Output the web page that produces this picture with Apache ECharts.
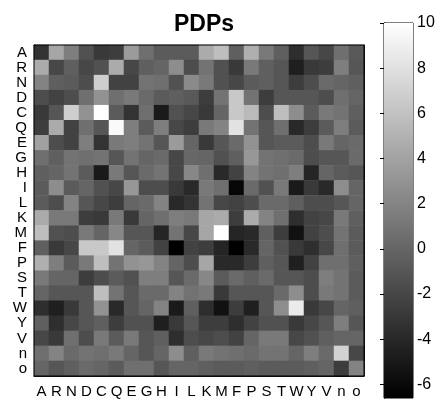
<!DOCTYPE html>
<html>
<head>
<meta charset="utf-8">
<script src="https://cdn.jsdelivr.net/npm/echarts@6/dist/echarts.min.js"></script>
<style>html,body{margin:0;padding:0;background:#fff;}#c{width:447px;height:415px;}</style>
</head>
<body>
<div id="c"></div>
<script>
// Category labels (columns left->right, rows top->bottom)
var labels = ['A','R','N','D','C','Q','E','G','H','I','L','K','M','F','P','S','T','W','Y','V','n','o'];
// Colorbar range and ticks
var cMin = -6.6, cMax = 10;
var cbTicks = [-6,-4,-2,0,2,4,6,8,10];
// Row values (one array per row label)
var rowA = [-3.3,4.2,1.6,-1.3,-2.9,-2.6,3.5,0.6,-0.7,-0.7,-0.7,4.5,5.8,-0.4,4.8,1.3,-0.4,-3.6,-1.0,-2.0,0.6,-0.8];
var rowR = [4.5,-2.0,-0.4,-2.0,-1.3,4.5,-2.0,-0.4,0.0,2.6,-1.6,0.9,-1.3,-2.9,1.3,-0.4,-1.0,-4.6,-2.9,-2.6,1.6,-1.0];
var rowN = [1.9,-0.4,-0.7,-1.6,6.8,-2.3,-2.3,0.9,0.6,-1.3,2.4,1.3,-1.3,-2.0,-0.7,-0.4,-1.0,-2.6,-1.6,0.3,0.0,-0.4];
var rowD = [-1.6,-2.3,-1.6,0.6,2.9,0.6,1.3,0.3,-0.7,-0.4,-0.8,-2.6,0.9,6.4,0.9,-2.6,-1.0,-1.0,-1.0,-1.6,0.6,0.0];
var rowC = [-2.9,-1.0,6.8,2.9,10.0,-0.7,-3.3,0.6,-4.9,-1.3,-2.0,-2.9,0.0,6.4,5.5,-1.6,5.8,2.6,-0.7,1.3,0.9,-0.4];
var rowQ = [-2.6,4.5,-2.3,0.6,-1.0,9.7,1.6,-0.7,1.6,-2.0,-2.6,1.3,1.9,8.1,0.9,-1.0,0.6,-3.9,-2.6,-0.7,1.6,-0.7];
var rowE = [3.9,-1.6,-2.3,1.6,-3.3,1.3,1.6,0.9,-1.0,3.5,0.0,-2.9,-1.0,0.3,2.9,-1.0,-0.7,-0.7,-1.6,1.3,0.0,0.3];
var rowG = [0.6,-0.4,0.9,0.6,0.9,-1.0,0.9,0.0,0.3,-2.0,0.1,0.0,-1.3,-0.4,3.2,0.9,0.6,0.3,-1.6,-1.0,-1.0,0.3];
var rowH = [-0.4,0.0,0.9,-0.7,-4.9,1.3,-1.0,0.3,0.9,-2.0,2.2,0.6,-3.9,-2.3,1.9,0.9,0.6,1.6,-4.2,0.0,-0.7,-1.0];
var rowI = [-0.7,2.6,-0.7,0.0,-1.3,-2.0,3.2,-1.6,-1.6,-2.9,-3.9,1.3,0.6,-6.2,0.3,-1.3,1.3,-4.9,-2.9,-3.9,2.6,0.0];
var rowL = [-0.7,-1.6,1.9,-1.0,-2.0,-2.6,0.0,0.3,1.9,-3.9,-3.3,0.9,-2.0,-2.3,-1.6,0.3,0.3,-0.4,-1.6,-1.6,-1.0,0.0];
var rowK = [4.5,1.3,1.3,-2.6,-2.9,1.3,-2.9,0.0,0.6,1.6,1.3,4.2,4.5,-2.6,4.5,1.9,0.6,-3.6,-2.3,-2.0,1.3,-0.4];
var rowM = [5.8,-1.3,-1.6,1.3,0.0,2.2,-1.0,-1.0,-4.2,0.9,-2.0,4.2,10.0,-4.2,-3.9,-0.4,-2.6,-5.5,-2.3,-1.6,0.9,-0.7];
var rowF = [-0.4,-2.9,-2.0,6.4,6.4,8.1,0.0,-0.7,-2.3,-6.6,-2.3,-2.6,-4.2,-6.6,-3.9,0.0,-1.3,-2.9,-3.6,-2.0,0.6,-0.7];
var rowP = [4.8,1.6,-0.7,1.3,5.8,0.9,2.9,3.2,1.9,0.0,-1.6,4.2,-3.9,-3.9,-2.6,-0.4,-1.0,-4.6,-2.3,0.6,0.6,-0.4];
var rowS = [1.3,0.0,0.0,-2.6,-1.6,-0.7,-1.3,1.6,1.6,-1.0,0.3,2.2,-0.7,0.3,-0.4,0.3,-1.0,-1.0,-1.6,1.6,0.9,-0.7];
var rowT = [0.0,-1.0,-1.0,-1.0,5.8,0.9,-1.0,0.3,0.3,1.9,0.8,1.3,-2.9,-1.0,-1.0,-1.0,0.3,2.6,-1.6,1.3,0.9,-0.7];
var rowW = [-3.6,-4.6,-2.9,-1.0,2.9,-3.9,-1.0,0.0,1.9,-4.9,-0.4,-3.6,-5.5,-2.6,-4.6,-1.0,2.6,8.7,-2.9,-2.0,0.0,-0.4];
var rowY = [-0.4,-3.6,-2.0,-1.0,-0.4,-2.6,-1.3,-1.3,-4.6,-2.9,-1.0,-2.6,-2.6,-3.6,-2.3,-1.3,-1.3,-2.9,-2.0,-1.0,1.6,-1.0];
var rowV = [-2.0,-2.9,0.6,-1.6,1.3,-0.7,1.3,-1.0,-0.4,-3.6,-1.6,-2.0,-1.6,-2.3,0.0,1.3,1.3,-2.0,-1.3,-0.4,0.0,0.0];
var rown = [0.6,1.9,0.3,0.9,0.6,1.3,0.0,-1.0,0.0,2.6,-0.4,1.3,0.9,0.6,0.3,0.9,0.9,0.0,1.6,0.3,7.1,-2.0];
var rowo = [0.0,-1.0,-0.4,0.3,0.0,-0.7,0.6,0.6,-1.0,0.0,0.0,-0.4,-0.7,-0.7,-0.4,-0.7,-0.7,-0.7,-0.4,0.0,-2.6,1.9];

var rows = [rowA,rowR,rowN,rowD,rowC,rowQ,rowE,rowG,rowH,rowI,rowL,rowK,rowM,rowF,rowP,rowS,rowT,rowW,rowY,rowV,rown,rowo];
var heat = [];
rows.forEach(function(r, yi){ r.forEach(function(v, xi){ heat.push([xi, yi, v]); }); });

var font = 'Liberation Sans, Arial, Helvetica, sans-serif';
var chart = echarts.init(document.getElementById('c'), null, {renderer:'canvas'});
var axisLine = {show:true, lineStyle:{color:'#000', width:1}};
var catTick = {show:true, inside:true, alignWithLabel:true, length:4, lineStyle:{color:'#000'}};
chart.setOption({
  animation:false,
  backgroundColor:'#fff',
  title:{text:'PDPs', left:199, top:8, textAlign:'center',
    textStyle:{fontFamily:font, fontSize:23, fontWeight:'bold', color:'#000'}},
  grid:[
    {left:34, top:45, width:330, height:331, show:true, borderColor:'#000', borderWidth:1, backgroundColor:'transparent', z:10},
    {left:384, top:23, width:29, height:375, show:true, borderColor:'#000', borderWidth:1, backgroundColor:'transparent'}
  ],
  xAxis:[
    {type:'category', data:labels, gridIndex:0, position:'bottom', axisLine:axisLine, axisTick:catTick,
      axisLabel:{fontFamily:font, fontSize:15, color:'#000', margin:8, interval:0}, splitLine:{show:false}},
    {type:'category', data:labels, gridIndex:0, position:'top', axisLine:axisLine, axisTick:catTick,
      axisLabel:{show:false}, splitLine:{show:false}},
    {type:'value', gridIndex:1, min:0, max:1, show:false}
  ],
  yAxis:[
    {type:'category', data:labels, gridIndex:0, inverse:true, position:'left', axisLine:axisLine, axisTick:catTick,
      axisLabel:{fontFamily:font, fontSize:15, color:'#000', margin:7, interval:0}, splitLine:{show:false}},
    {type:'category', data:labels, gridIndex:0, inverse:true, position:'right', axisLine:axisLine, axisTick:catTick,
      axisLabel:{show:false}, splitLine:{show:false}},
    {type:'value', gridIndex:1, min:cMin, max:cMax, position:'right', axisLine:axisLine,
      axisTick:{show:true, inside:true, length:4, customValues:cbTicks, lineStyle:{color:'#000'}},
      axisLabel:{fontFamily:font, fontSize:16, color:'#000', margin:4, customValues:cbTicks}, splitLine:{show:false}},
    {type:'value', gridIndex:1, min:cMin, max:cMax, position:'left', axisLine:axisLine,
      axisTick:{show:true, inside:true, length:4, customValues:cbTicks, lineStyle:{color:'#000'}},
      axisLabel:{show:false}, splitLine:{show:false}}
  ],
  visualMap:{type:'continuous', min:cMin, max:cMax, show:false, seriesIndex:0, dimension:2,
    inRange:{color:['#000000','#ffffff']}},
  series:[
    {type:'heatmap', xAxisIndex:0, yAxisIndex:0, data:heat, itemStyle:{borderWidth:0}, emphasis:{disabled:true}},
    {type:'custom', xAxisIndex:2, yAxisIndex:2, data:[[0, cMin, cMax]], z:1,
      renderItem:function(params, api){
        var p1 = api.coord([0, api.value(2)]);
        var p2 = api.coord([1, api.value(1)]);
        return {type:'rect', shape:{x:p1[0], y:p1[1], width:p2[0]-p1[0], height:p2[1]-p1[1]},
          style:{fill:new echarts.graphic.LinearGradient(0,0,0,1,[{offset:0,color:'#ffffff'},{offset:1,color:'#000000'}])}};
      }}
  ]
});
</script>
</body>
</html>
